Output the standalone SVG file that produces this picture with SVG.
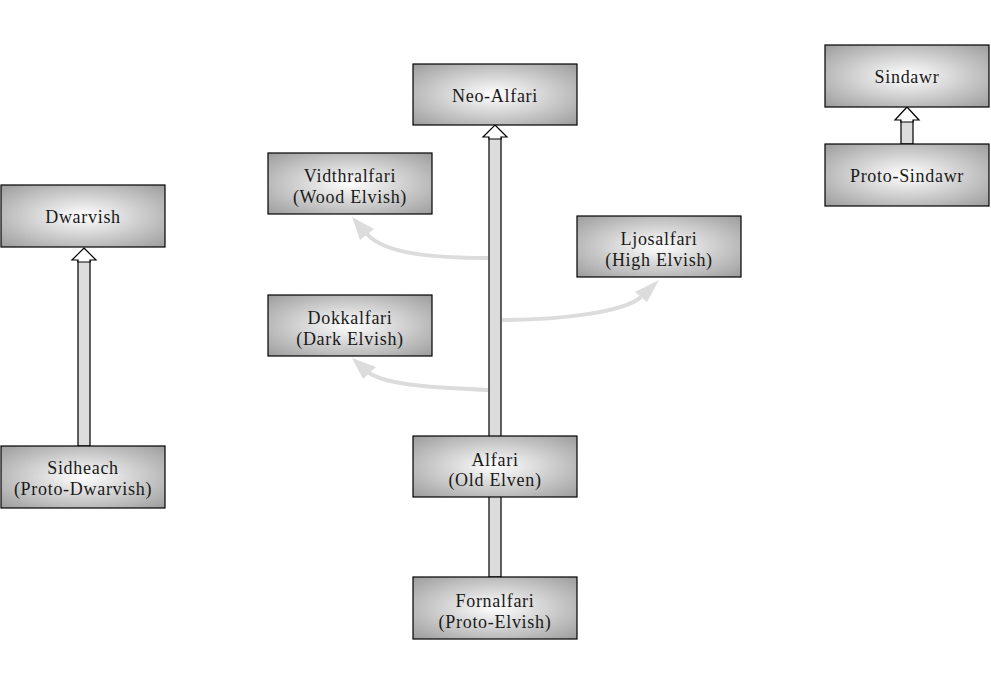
<svg xmlns="http://www.w3.org/2000/svg" width="991" height="686" viewBox="0 0 991 686">
<defs>
<radialGradient id="g" cx="0.5" cy="0.5" r="0.72">
<stop offset="0" stop-color="#ffffff"/>
<stop offset="1" stop-color="#9a9a9a"/>
</radialGradient>
<style>
.box{fill:url(#g);stroke:#000;stroke-width:1.2}
.t{font-family:"Liberation Serif","Times New Roman",serif;font-size:18px;letter-spacing:0.7px;fill:#1a1a1a;text-anchor:middle}
.shaft{fill:#dcdcdc;stroke:#000;stroke-width:1.2}
.head{fill:#fff;stroke:#000;stroke-width:1.2}
.curve{fill:none;stroke:#dcdcdc;stroke-width:4}
.chead{fill:#dcdcdc;stroke:none}
</style>
</defs>
<rect width="991" height="686" fill="#fff"/>
<g id="connectors">
<rect class="shaft" x="489" y="137" width="12" height="440"/>
<polygon class="head" points="495,125 507,137 501,137 501,139 489,139 489,137 483,137"/>
<rect class="shaft" x="78" y="260" width="12" height="186"/>
<polygon class="head" points="84,248 96,260 90,260 90,262 78,262 78,260 72,260"/>
<rect class="shaft" x="901" y="120" width="12" height="24"/>
<polygon class="head" points="907,107 919,120 913,120 913,122 901,122 901,120 895,120"/>
<path class="curve" d="M488,258 C440,258 385,255 367,234"/>
<polygon class="chead" points="352,217 360,240 374,229"/>
<path class="curve" d="M488,390 C440,388 390,386 369,373"/>
<polygon class="chead" points="352,358 363,379 376,367"/>
<path class="curve" d="M502,320 C560,320 625,312 641,297"/>
<polygon class="chead" points="659,280 635,292 647,302"/>
</g>
<g id="neo-alfari"><rect class="box" x="413" y="64" width="164" height="61"/><text class="t" x="495" y="102">Neo-Alfari</text></g>
<g id="vidthralfari"><rect class="box" x="268" y="153" width="164" height="61"/><text class="t" x="350" y="182">Vidthralfari</text><text class="t" x="350" y="203">(Wood Elvish)</text></g>
<g id="ljosalfari"><rect class="box" x="577" y="216" width="164" height="61"/><text class="t" x="659" y="245">Ljosalfari</text><text class="t" x="659" y="266">(High Elvish)</text></g>
<g id="dokkalfari"><rect class="box" x="268" y="295" width="164" height="61"/><text class="t" x="350" y="324">Dokkalfari</text><text class="t" x="350" y="345">(Dark Elvish)</text></g>
<g id="alfari"><rect class="box" x="413" y="436" width="164" height="61"/><text class="t" x="495" y="466">Alfari</text><text class="t" x="495" y="486">(Old Elven)</text></g>
<g id="fornalfari"><rect class="box" x="413" y="577" width="164" height="62"/><text class="t" x="495" y="607">Fornalfari</text><text class="t" x="495" y="628">(Proto-Elvish)</text></g>
<g id="dwarvish"><rect class="box" x="1" y="185" width="164" height="62"/><text class="t" x="83" y="223">Dwarvish</text></g>
<g id="sidheach"><rect class="box" x="1" y="446" width="164" height="62"/><text class="t" x="83" y="474">Sidheach</text><text class="t" x="83" y="495">(Proto-Dwarvish)</text></g>
<g id="sindawr"><rect class="box" x="825" y="45" width="164" height="62"/><text class="t" x="907" y="83">Sindawr</text></g>
<g id="proto-sindawr"><rect class="box" x="825" y="144" width="164" height="62"/><text class="t" x="907" y="182">Proto-Sindawr</text></g>
</svg>
